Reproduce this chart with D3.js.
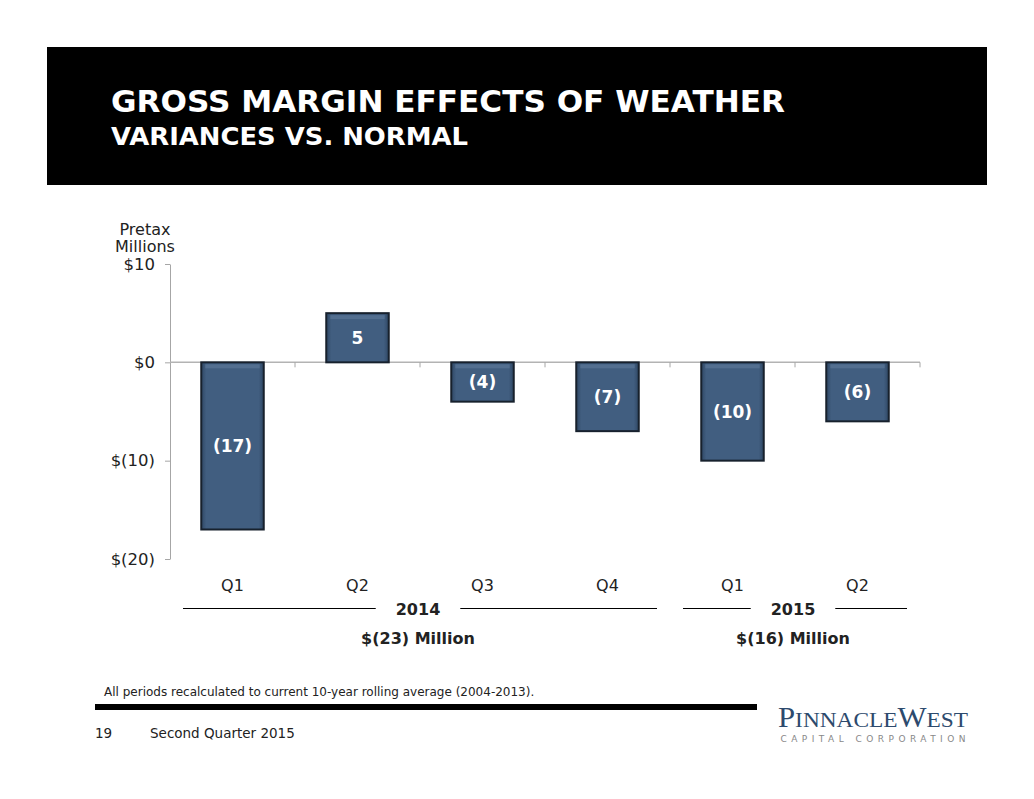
<!DOCTYPE html>
<html>
<head>
<meta charset="utf-8">
<script src="https://cdn.jsdelivr.net/npm/d3@7"></script>
<style>
  body { margin: 0; background: #fff; }
  text { font-family: "DejaVu Sans", Verdana, sans-serif; }
</style>
</head>
<body>
<svg id="drawing_region"></svg>
<script>
// chart data
const quarters = ["Q1", "Q2", "Q3", "Q4", "Q1", "Q2"];
const keys = ["2014-Q1", "2014-Q2", "2014-Q3", "2014-Q4", "2015-Q1", "2015-Q2"];
const values = [-17, 5, -4, -7, -10, -6];
const yTicks = [10, 0, -10, -20];
const years = ["2014", "2015"];
const yearSpans = [[0, 3], [4, 5]];
const yearTotals = ["$(23) Million", "$(16) Million"];

const fmt = v => v < 0 ? `(${-v})` : `${v}`;
const fmtTick = v => v < 0 ? `$(${-v})` : `$${v}`;

const config = {
    width: 1034,
    height: 799,
    plot: {left: 170, right: 920, top: 264, bottom: 559}
};

const svg = d3.select('#drawing_region')
    .attr('width', config.width)
    .attr('height', config.height);

// gradient for the bevelled bars
const defs = svg.append('defs');
const grad = defs.append('linearGradient')
    .attr('id', 'barGrad')
    .attr('x1', 0).attr('x2', 1).attr('y1', 0).attr('y2', 0);
grad.append('stop').attr('offset', '0%').attr('stop-color', '#2f4764');
grad.append('stop').attr('offset', '8%').attr('stop-color', '#415e80');
grad.append('stop').attr('offset', '92%').attr('stop-color', '#415e80');
grad.append('stop').attr('offset', '100%').attr('stop-color', '#2f4764');

// header band
svg.append('rect')
    .attr('x', 47).attr('y', 47)
    .attr('width', 940).attr('height', 138)
    .attr('fill', '#000');
svg.append('text')
    .attr('x', 111).attr('y', 112)
    .attr('fill', '#fff')
    .attr('font-size', 31).attr('font-weight', 'bold')
    .attr('textLength', 674).attr('lengthAdjust', 'spacingAndGlyphs')
    .text('GROSS MARGIN EFFECTS OF WEATHER');
svg.append('text')
    .attr('x', 111).attr('y', 145)
    .attr('fill', '#fff')
    .attr('font-size', 25.5).attr('font-weight', 'bold')
    .attr('textLength', 357).attr('lengthAdjust', 'spacingAndGlyphs')
    .text('VARIANCES VS. NORMAL');

const p = config.plot;

const xscale = d3.scaleBand()
    .domain(keys)
    .range([p.left, p.right])
    .paddingInner(0.5)
    .paddingOuter(0.25);

const yscale = d3.scaleLinear()
    .domain([-20, 10])
    .range([p.bottom, p.top]);

const chart = svg.append('g');

// y axis
const yaxis = d3.axisLeft(yscale)
    .tickValues(yTicks)
    .tickFormat(fmtTick)
    .tickSizeInner(5)
    .tickSizeOuter(0)
    .tickPadding(10);

const yg = chart.append('g')
    .attr('transform', `translate(${p.left},0)`)
    .call(yaxis);
yg.select('.domain').attr('stroke', '#a6a6a6');
yg.selectAll('.tick line').attr('stroke', '#a6a6a6');
yg.selectAll('.tick text')
    .attr('font-size', 16.5).attr('fill', '#222');

// zero line with category ticks
const step = xscale.step();
const zeroY = yscale(0);
chart.append('line')
    .attr('x1', p.left).attr('x2', p.right)
    .attr('y1', zeroY).attr('y2', zeroY)
    .attr('stroke', '#b3b3b3').attr('stroke-width', 1.5);
chart.selectAll('.cat-tick')
    .data(keys.slice(1).concat(['end']))
    .join('line')
    .attr('x1', (d, i) => p.left + step * (i + 1))
    .attr('x2', (d, i) => p.left + step * (i + 1))
    .attr('y1', zeroY).attr('y2', zeroY + 5)
    .attr('stroke', '#a6a6a6');

// bars
const bars = chart.selectAll('.bar')
    .data(values)
    .join('g');

bars.append('rect')
    .attr('x', (d, i) => xscale(keys[i]))
    .attr('y', d => yscale(Math.max(0, d)))
    .attr('width', xscale.bandwidth())
    .attr('height', d => Math.abs(yscale(d) - yscale(0)))
    .attr('fill', 'url(#barGrad)')
    .attr('stroke', '#17212d')
    .attr('stroke-width', 2);

// bevel highlight along top edge
bars.append('rect')
    .attr('x', (d, i) => xscale(keys[i]) + 4)
    .attr('y', d => yscale(Math.max(0, d)) + 2)
    .attr('width', xscale.bandwidth() - 8)
    .attr('height', 4)
    .attr('fill', '#6f8aa8')
    .attr('opacity', 0.4);

bars.append('text')
    .attr('x', (d, i) => xscale(keys[i]) + xscale.bandwidth() / 2)
    .attr('y', d => (yscale(d) + yscale(0)) / 2)
    .attr('dy', '0.36em')
    .attr('text-anchor', 'middle')
    .attr('fill', '#fff')
    .attr('font-size', 17).attr('font-weight', 'bold')
    .text(d => fmt(d));

// category labels
chart.selectAll('.qlabel')
    .data(quarters)
    .join('text')
    .attr('x', (d, i) => xscale(keys[i]) + xscale.bandwidth() / 2)
    .attr('y', 591)
    .attr('text-anchor', 'middle')
    .attr('font-size', 16).attr('fill', '#222')
    .text(d => d);

// year groups
const yearY = 608.5;
years.forEach((yr, k) => {
    const [a, b] = yearSpans[k];
    const x0 = p.left + step * a + 13;
    const x1 = p.left + step * (b + 1) - 13;
    const cx = (x0 + x1) / 2 - 2;
    const t = chart.append('text')
        .attr('x', cx).attr('y', yearY + 6)
        .attr('text-anchor', 'middle')
        .attr('font-size', 16).attr('font-weight', 'bold').attr('fill', '#222')
        .text(yr);
    const w = t.node().getComputedTextLength() / 2 + 20;
    chart.append('line')
        .attr('x1', x0).attr('x2', cx - w)
        .attr('y1', yearY).attr('y2', yearY)
        .attr('stroke', '#000');
    chart.append('line')
        .attr('x1', cx + w).attr('x2', x1)
        .attr('y1', yearY).attr('y2', yearY)
        .attr('stroke', '#000');
    chart.append('text')
        .attr('x', cx).attr('y', 644)
        .attr('text-anchor', 'middle')
        .attr('font-size', 16).attr('font-weight', 'bold').attr('fill', '#222')
        .text(yearTotals[k]);
});

// y axis title
svg.append('text')
    .attr('x', 145).attr('y', 235)
    .attr('text-anchor', 'middle')
    .attr('font-size', 16).attr('fill', '#222')
    .text('Pretax');
svg.append('text')
    .attr('x', 145).attr('y', 252)
    .attr('text-anchor', 'middle')
    .attr('font-size', 16).attr('fill', '#222')
    .text('Millions');

// footer
svg.append('text')
    .attr('x', 104).attr('y', 696)
    .attr('font-size', 12).attr('fill', '#222')
    .text('All periods recalculated to current 10-year rolling average (2004-2013).');
svg.append('rect')
    .attr('x', 95).attr('y', 704)
    .attr('width', 662).attr('height', 6)
    .attr('fill', '#000');
svg.append('text')
    .attr('x', 95).attr('y', 738)
    .attr('font-size', 13.5).attr('fill', '#222')
    .text('19');
svg.append('text')
    .attr('x', 150).attr('y', 738)
    .attr('font-size', 13.5).attr('fill', '#222')
    .text('Second Quarter 2015');

// logo
const logo = svg.append('text')
    .attr('x', 778).attr('y', 727)
    .style('font-family', '"Liberation Serif", "DejaVu Serif", serif')
    .attr('fill', '#2d4a6d')
    .attr('textLength', 190).attr('lengthAdjust', 'spacingAndGlyphs');
logo.append('tspan').attr('font-size', 29).text('P');
logo.append('tspan').attr('font-size', 22).text('INNACLE');
logo.append('tspan').attr('font-size', 29).text('W');
logo.append('tspan').attr('font-size', 22).text('EST');
svg.append('text')
    .attr('x', 873).attr('y', 742)
    .attr('text-anchor', 'middle')
    .attr('font-size', 9).attr('fill', '#888')
    .attr('textLength', 185).attr('lengthAdjust', 'spacing')
    .text('CAPITAL CORPORATION');
</script>
</body>
</html>
